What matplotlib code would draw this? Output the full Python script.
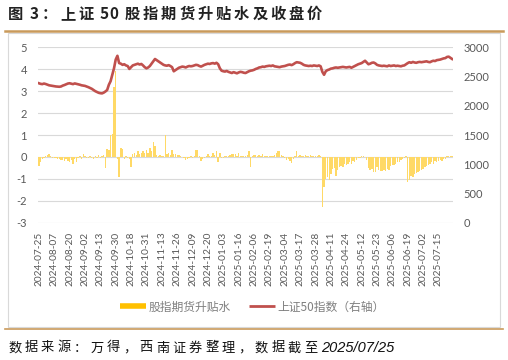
import matplotlib
matplotlib.use("Agg")
import matplotlib.pyplot as plt
import numpy as np
from matplotlib.lines import Line2D
from matplotlib.patches import Rectangle

plt.rcParams["font.family"] = ["Noto Sans CJK SC", "DejaVu Sans"]
plt.rcParams["axes.unicode_minus"] = False

# tick labels, one every 9 trading days
tick_labels = [
    "2024-07-25", "2024-08-07", "2024-08-20", "2024-09-02", "2024-09-13",
    "2024-09-30", "2024-10-18", "2024-10-31", "2024-11-13", "2024-11-26",
    "2024-12-09", "2024-12-20", "2025-01-03", "2025-01-16", "2025-02-06",
    "2025-02-19", "2025-03-04", "2025-03-17", "2025-03-28", "2025-04-11",
    "2025-04-24", "2025-05-12", "2025-05-23", "2025-06-06", "2025-06-19",
    "2025-07-02", "2025-07-15",
]
tick_step = 9

# futures basis (left axis), daily
basis = [
    -0.40, -0.22, -0.08, -0.05, 0.05, 0.08, 0.12, 0.06, -0.04,
    -0.06, -0.05, -0.08, -0.10, -0.15, -0.12, -0.18, -0.10, -0.20,
    -0.25, -0.15, -0.30, -0.10, -0.22, -0.05, 0.06, -0.10, 0.12,
    0.04, -0.06, -0.05, 0.03, -0.04, -0.08, 0.05, -0.06, 0.08,
    -0.05, 0.04, 0.10, -0.50, 0.35, 0.30, 1.00, 1.05, 3.20,
    3.90, -0.10, -0.93, 0.42, 0.35, -0.10, 0.05, -0.05, -0.10,
    -0.47, 0.15, 0.20, 0.10, 0.25, 0.15, 0.20, 0.25, 0.18,
    0.30, 0.20, 0.40, 0.25, 0.69, 0.50, 0.10, 0.05, 0.08,
    0.02, 0.05, 1.00, 0.15, 0.20, 0.10, 0.30, 0.12, 0.15,
    0.08, 0.10, 0.05, -0.02, -0.05, -0.15, -0.08, -0.05, 0.03,
    -0.03, 0.02, 0.30, 0.32, 0.05, -0.18, -0.10, -0.05, 0.02,
    0.15, 0.05, 0.02, 0.20, 0.08, 0.25, -0.25, 0.20, -0.05,
    -0.03, 0.02, 0.05, 0.03, 0.08, 0.15, 0.12, 0.15, 0.05,
    0.20, 0.03, 0.05, 0.02, 0.04, 0.08, 0.25, -0.47, 0.05,
    0.10, 0.08, 0.05, 0.10, 0.03, 0.15, 0.05, 0.02, 0.04,
    0.06, 0.02, 0.05, 0.08, 0.20, 0.28, 0.25, 0.10, 0.03,
    -0.05, -0.15, -0.08, -0.20, -0.28, -0.10, 0.02, 0.28, 0.05,
    0.08, 0.06, 0.04, 0.08, 0.05, 0.03, 0.07, 0.05, 0.02,
    0.06, 0.04, 0.08, 0.03, -2.28, -1.37, -1.00, -0.90, -1.05,
    -0.80, -0.55, -0.50, -0.85, -0.60, -0.45, -0.40, -0.45, -0.30,
    -0.35, -0.30, -0.25, -0.30, -0.20, -0.25, -0.15, -0.05, -0.03,
    0.04, 0.05, -0.02, -0.15, -0.50, -0.60, -0.55, -0.70, -0.68,
    -0.45, -0.60, -0.62, -0.65, -0.58, -0.66, -0.55, -0.60, -0.40,
    -0.35, -0.38, -0.30, -0.22, -0.25, -0.15, -0.10, -0.05, 0.04,
    -1.13, -1.05, -0.85, -0.90, -0.80, -0.75, -0.70, -0.65, -0.60,
    -0.55, -0.45, -0.40, -0.35, -0.30, -0.25, -0.30, -0.20, -0.22,
    -0.18, -0.15, -0.20, -0.10, -0.08, 0.04, 0.05, 0.06, 0.05,
]

# SSE 50 close (right axis), daily
sse50 = [
    2385, 2375, 2370, 2380, 2372, 2360, 2350, 2345, 2340,
    2335, 2330, 2328, 2325, 2330, 2345, 2355, 2368, 2380,
    2385, 2378, 2370, 2382, 2375, 2368, 2360, 2350, 2345,
    2340, 2330, 2318, 2305, 2290, 2270, 2250, 2235, 2222,
    2215, 2212, 2225, 2245, 2270, 2360, 2420, 2530, 2640,
    2790, 2855, 2730, 2720, 2700, 2710, 2690, 2680, 2630,
    2660, 2690, 2700, 2710, 2720, 2705, 2715, 2690, 2660,
    2640, 2655, 2680, 2720, 2760, 2800, 2780, 2760, 2740,
    2720, 2700, 2690, 2685, 2695, 2680, 2660, 2590, 2610,
    2630, 2650, 2660, 2670, 2665, 2655, 2670, 2680, 2675,
    2680, 2690, 2700, 2695, 2680, 2670, 2685, 2700, 2710,
    2720, 2715, 2725, 2730, 2720, 2735, 2710, 2640, 2600,
    2590, 2585, 2595, 2580, 2570, 2560, 2575, 2565, 2555,
    2570, 2580, 2575, 2565, 2560, 2575, 2590, 2600, 2605,
    2615, 2630, 2640, 2655, 2660, 2670, 2665, 2675, 2680,
    2685, 2680, 2690, 2675, 2670, 2665, 2660, 2670, 2675,
    2680, 2690, 2700, 2705, 2695, 2710, 2730, 2745, 2740,
    2735, 2720, 2700, 2690, 2685, 2680, 2685, 2680, 2690,
    2685, 2680, 2690, 2675, 2580, 2530, 2590, 2610, 2620,
    2635, 2640, 2650, 2655, 2650, 2655, 2660, 2665, 2660,
    2655, 2660, 2665, 2650, 2665, 2680, 2695, 2710, 2720,
    2730, 2750, 2770, 2740, 2710, 2720, 2735, 2740, 2725,
    2700, 2690, 2685, 2680, 2685, 2680, 2675, 2690, 2680,
    2685, 2690, 2680, 2685, 2680, 2675, 2685, 2690, 2710,
    2730, 2745, 2735, 2750, 2740, 2735, 2745, 2750, 2745,
    2750, 2755, 2760, 2750, 2745, 2760, 2770, 2765, 2780,
    2785, 2790, 2800, 2810, 2815, 2835, 2840, 2820, 2800,
]

BAR_COLOR = "#FFD966"
LEG_BAR = "#FFC000"
LINE_COLOR = "#C0504D"
TAN = "#C99A5B"
GREY_TXT = "#595959"
W, H = 508, 360

fig = plt.figure(figsize=(W / 100, H / 100), dpi=100)
renderer = fig.canvas.get_renderer()


def spaced_text(x_px, y_px, s, tracking, **kw):
    # draw a string char by char with extra letter spacing (pixels);
    # runs of digits and spaces are kept tight
    for i, ch in enumerate(s):
        t = fig.text(x_px / W, 1 - y_px / H, ch, va="center", ha="left", **kw)
        w = t.get_window_extent(renderer).width
        nxt = s[i + 1] if i + 1 < len(s) else ""
        tight = ch == " " or (ch.isdigit() and nxt.isdigit())
        x_px += w + (0 if tight else tracking)
    return x_px


# outer decorations
fig.add_artist(Line2D([5 / W, 503 / W], [1 - 31 / H, 1 - 31 / H], color=TAN, lw=1.8))
fig.add_artist(Line2D([5 / W, 503 / W], [1 - 329 / H, 1 - 329 / H], color=TAN, lw=1.2))
fig.add_artist(Rectangle((8 / W, 1 - 327 / H), 492 / W, 294 / H, fill=False,
                         edgecolor="#D9D9D9", lw=0.8))
spaced_text(8, 14, "图 3：上证 50 股指期货升贴水及收盘价", 3.0,
            fontsize=11, fontweight="bold", color="#222222")
xe = spaced_text(8, 348, "数据来源：万得，西南证券整理，数据截至", 3.2,
                 fontsize=9.5, style="italic", color="#111111")
fig.text((xe + 1) / W, 1 - 348 / H, "2025/07/25", fontsize=10.5, style="italic",
         family="Liberation Sans", va="center", ha="left", color="#111111")

ax = fig.add_axes([38 / W, 1 - 222.7 / H, 415 / W, 175.4 / H])
x = np.arange(len(basis))
ax.bar(x, basis, width=0.8, color=BAR_COLOR, zorder=2)
ax.set_ylim(-3, 5)
ax.set_yticks(range(-3, 6))
ax.set_xlim(-0.5, len(basis) - 0.5)
ax.set_xticks(np.arange(len(tick_labels)) * tick_step)
ax.set_xticklabels(tick_labels, rotation=90, fontsize=7.3, color=GREY_TXT,
                   family=["Lato", "DejaVu Sans"])
ax.grid(axis="y", color="#D9D9D9", lw=0.8, zorder=0)
ax.tick_params(axis="x", length=0, pad=6.5)
ax.tick_params(axis="y", length=0, pad=8, labelsize=8, labelcolor=GREY_TXT)
for lab in ax.get_yticklabels():
    lab.set_family(["Lato", "DejaVu Sans"])
for s in ax.spines.values():
    s.set_visible(False)

ax2 = ax.twinx()
ax2.plot(x, sse50, color=LINE_COLOR, lw=1.9, zorder=3)
ax2.set_ylim(0, 3000)
ax2.set_yticks(range(0, 3001, 500))
ax2.tick_params(length=0, pad=7.5, labelsize=8, labelcolor=GREY_TXT)
for lab in ax2.get_yticklabels():
    lab.set_family(["Lato", "DejaVu Sans"])
for s in ax2.spines.values():
    s.set_visible(False)

handles = [
    Line2D([], [], color=LEG_BAR, lw=4, solid_capstyle="butt"),
    Line2D([], [], color=LINE_COLOR, lw=2, solid_capstyle="butt"),
]
leg = fig.legend(handles, ["股指期货升贴水", "上证50指数（右轴）"], loc="center",
                 bbox_to_anchor=(0.497, 1 - 307 / H), ncol=2, frameon=False,
                 fontsize=8.5, handlelength=2.2, handletextpad=0.2, columnspacing=1.6)
for t in leg.get_texts():
    t.set_color("#7F7F7F")

fig.savefig("out.png", dpi=100)
